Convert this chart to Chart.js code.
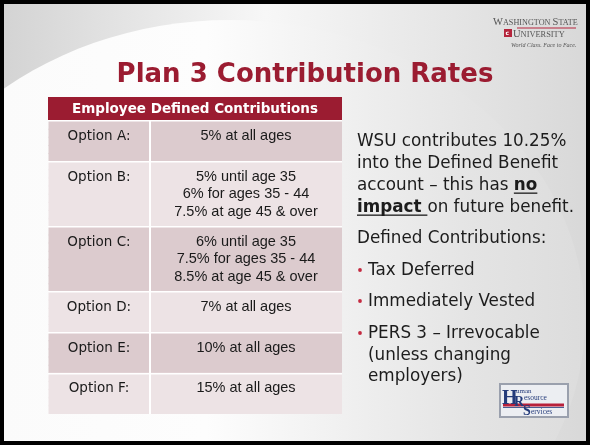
<!DOCTYPE html>
<html>
<head>
<meta charset="utf-8">
<script src="https://cdn.jsdelivr.net/npm/chart.js@4.4.0/dist/chart.umd.min.js"></script>
<style>
html, body { margin: 0; padding: 0; background: #fff; }
#wrap { width: 590px; height: 445px; }
</style>
</head>
<body>
<div id="wrap"><canvas id="slide" width="590" height="445"></canvas></div>
<script>
const slideTitle = 'Plan 3 Contribution Rates';
const tableHeader = 'Employee Defined Contributions';
const optionNames = ['Option A:', 'Option B:', 'Option C:', 'Option D:', 'Option E:', 'Option F:'];
const optionRates = [
    ['5% at all ages'],
    ['5% until age 35', '6% for ages 35 - 44', '7.5% at age 45 & over'],
    ['6% until age 35', '7.5% for ages 35 - 44', '8.5% at age 45 & over'],
    ['7% at all ages'],
    ['10% at all ages'],
    ['15% at all ages']
];
// **text** = bold + underlined
const wsuNote = ['WSU contributes 10.25%', 'into the Defined Benefit', 'account – this has **no**', '**impact **on future benefit.'];
const dcHeading = 'Defined Contributions:';
const dcBullets = [['Tax Deferred'], ['Immediately Vested'], ['PERS 3 – Irrevocable', '(unless changing', 'employers)']];

const RED = '#9b1c31';
const ROW_DARK = '#dccbce';
const ROW_LIGHT = '#ede3e5';
const COL_SPLIT = 0.347;

// rows are cut into thin slots so the 3-line rows get more height
const slotRow = [];
const firstSlot = [];
optionRates.forEach((lines, r) => {
    firstSlot.push(slotRow.length);
    const units = Math.round(5 + 1.5 * (lines.length - 1));
    for (let i = 0; i < units; i++) slotRow.push(r);
});
const slotLabels = slotRow.map((r, i) => 'slot' + i);
const optionCells = slotRow.map(() => [0, COL_SPLIT]);
const rateCells = slotRow.map(() => [COL_SPLIT, 1]);

function cellColor(ctx) {
    return slotRow[ctx.dataIndex] % 2 === 0 ? ROW_DARK : ROW_LIGHT;
}
function rowLineColor(ctx) {
    const i = ctx.index;
    if (i === undefined || i >= slotRow.length) return 'rgba(0,0,0,0)';
    if (i === 0 || slotRow[i] !== slotRow[i - 1]) return '#ffffff';
    return 'rgba(0,0,0,0)';
}
function colLineColor(ctx) {
    if (ctx.tick && ctx.tick.value === COL_SPLIT) return '#ffffff';
    return 'rgba(0,0,0,0)';
}

function drawBackground(ctx, w, h) {
    let g = ctx.createLinearGradient(0, 0, w, 0);
    g.addColorStop(0, '#d3d3d3');
    g.addColorStop(0.45, '#f7f7f7');
    g.addColorStop(1, '#d8d8d8');
    ctx.fillStyle = g;
    ctx.fillRect(0, 0, w, h);
    ctx.save();
    ctx.beginPath();
    ctx.ellipse(230, 320, 355, 300, 0, 0, Math.PI * 2);
    g = ctx.createLinearGradient(0, 0, w, 0);
    g.addColorStop(0, '#fbfbfb');
    g.addColorStop(0.35, '#fdfdfd');
    g.addColorStop(0.8, '#e4e4e4');
    g.addColorStop(1, '#dcdcdc');
    ctx.fillStyle = g;
    ctx.fill();
    ctx.restore();
}

function drawRichLine(ctx, text, x, y, size) {
    const parts = text.split('**');
    parts.forEach((p, k) => {
        if (!p) return;
        const bold = k % 2 === 1;
        ctx.font = (bold ? 'bold ' : '') + size + 'px "DejaVu Sans"';
        const wd = ctx.measureText(p).width;
        ctx.fillText(p, x, y);
        if (bold) {
            ctx.fillRect(x, y + 2.5, wd, 1.3);
        }
        x += wd;
    });
}

function drawWsuLogo(ctx) {
    ctx.save();
    ctx.fillStyle = '#555555';
    ctx.textAlign = 'left';
    let x = 493;
    [['W', 10.5], ['ASHINGTON ', 8.2], ['S', 10.5], ['TATE', 8.2]].forEach(([t, s]) => {
        ctx.font = s + 'px "Liberation Serif"';
        ctx.fillText(t, x, 25);
        x += ctx.measureText(t).width;
    });
    ctx.fillStyle = '#b5253c';
    ctx.fillRect(517, 27.5, 59, 1);
    ctx.fillRect(504, 29, 8, 8);
    ctx.fillStyle = '#fff';
    ctx.font = 'bold 6px "DejaVu Sans"';
    ctx.fillText('c', 505.5, 35);
    ctx.fillStyle = '#555555';
    x = 513;
    [['U', 10.5], ['NIVERSITY', 8.4]].forEach(([t, s]) => {
        ctx.font = s + 'px "Liberation Serif"';
        ctx.fillText(t, x, 36.5);
        x += ctx.measureText(t).width;
    });
    ctx.font = 'italic 6px "Liberation Serif"';
    ctx.fillText('World Class. Face to Face.', 511, 47);
    ctx.restore();
}

function drawHrLogo(ctx) {
    ctx.save();
    ctx.fillStyle = '#9aa0ad';
    ctx.fillRect(499, 383, 70, 35);
    ctx.fillStyle = '#eceef2';
    ctx.fillRect(501, 385, 66, 31);
    ctx.fillStyle = '#b8203a';
    ctx.fillRect(503, 403.5, 61, 3);
    ctx.fillStyle = '#243b7a';
    ctx.fillRect(503, 407, 61, 0.8);
    ctx.textAlign = 'left';
    ctx.font = 'bold 20px "Liberation Serif"';
    ctx.fillText('H', 502, 404);
    ctx.font = '7px "Liberation Serif"';
    ctx.fillText('uman', 516, 393);
    ctx.font = 'bold 14px "Liberation Serif"';
    ctx.fillText('R', 514, 406);
    ctx.font = '7.5px "Liberation Serif"';
    ctx.fillText('esource', 524, 399.5);
    ctx.font = 'bold 14px "Liberation Serif"';
    ctx.fillText('S', 523, 415);
    ctx.font = '7.5px "Liberation Serif"';
    ctx.fillText('ervices', 531, 414);
    ctx.restore();
}

const slidePlugin = {
    id: 'slide',
    beforeDraw(chart) {
        drawBackground(chart.ctx, chart.width, chart.height);
        const tb = chart.titleBlock;
        chart.ctx.fillStyle = RED;
        chart.ctx.fillRect(tb.left, tb.top, tb.width, tb.height);
    },
    afterDraw(chart) {
        const ctx = chart.ctx;
        const w = chart.width, h = chart.height;
        const xs = chart.scales.x;
        const meta = chart.getDatasetMeta(0);
        const left = xs.getPixelForValue(0);
        const mid = xs.getPixelForValue(COL_SPLIT);
        const right = xs.getPixelForValue(1);
        ctx.save();
        ctx.textAlign = 'center';
        ctx.fillStyle = '#1a1a1a';
        optionNames.forEach((name, r) => {
            const bar = meta.data[firstSlot[r]];
            const top = bar.y - bar.height / 2;
            ctx.font = '13.5px "DejaVu Sans"';
            ctx.fillText(name, (left + mid) / 2, top + 19);
            ctx.font = '14.5px "Liberation Sans"';
            optionRates[r].forEach((line, k) => {
                ctx.fillText(line, (mid + right) / 2, top + 19 + k * 17.5);
            });
        });

        ctx.fillStyle = RED;
        ctx.font = 'bold 26px "DejaVu Sans"';
        ctx.fillText(slideTitle, 305, 82);

        ctx.textAlign = 'left';
        ctx.fillStyle = '#1c1c1c';
        const fs = 16.8;
        wsuNote.forEach((line, k) => drawRichLine(ctx, line, 357, 146 + k * 22, fs));
        ctx.font = fs + 'px "DejaVu Sans"';
        ctx.fillText(dcHeading, 357, 243);
        const bulletY = [275, 306, 338];
        dcBullets.forEach((lines, b) => {
            ctx.fillStyle = '#c42a40';
            ctx.beginPath();
            ctx.arc(360, bulletY[b] - 5, 1.9, 0, Math.PI * 2);
            ctx.fill();
            ctx.fillStyle = '#1c1c1c';
            lines.forEach((line, k) => ctx.fillText(line, 368, bulletY[b] + k * 21.5));
        });

        drawWsuLogo(ctx);
        drawHrLogo(ctx);

        // slide frame
        ctx.strokeStyle = '#000';
        ctx.lineWidth = 4;
        ctx.strokeRect(2, 2, w - 4, h - 4);
        ctx.restore();
    }
};

new Chart(document.getElementById('slide'), {
    type: 'bar',
    data: {
        labels: slotLabels,
        datasets: [{
            label: 'Option',
            data: optionCells,
            backgroundColor: cellColor,
            borderWidth: 0,
            inflateAmount: 0.5,
            grouped: false
        }, {
            label: 'Rate',
            data: rateCells,
            backgroundColor: cellColor,
            borderWidth: 0,
            inflateAmount: 0.5,
            grouped: false
        }]
    },
    options: {
        indexAxis: 'y',
        responsive: false,
        animation: false,
        events: [],
        layout: {
            padding: { left: 48, right: 248, top: 97, bottom: 31 }
        },
        datasets: {
            bar: { barPercentage: 1, categoryPercentage: 1 }
        },
        scales: {
            x: {
                type: 'linear', min: 0, max: 1,
                afterBuildTicks: (scale) => {
                    scale.ticks = [{ value: 0 }, { value: COL_SPLIT }, { value: 1 }];
                },
                ticks: { display: false },
                border: { display: false },
                grid: { color: colLineColor, lineWidth: 2, drawTicks: false, z: 1 }
            },
            y: {
                ticks: { display: false },
                border: { display: false },
                grid: { color: rowLineColor, lineWidth: 1.5, drawTicks: false, offset: true, z: 1 }
            }
        },
        plugins: {
            legend: { display: false },
            tooltip: { enabled: false },
            title: {
                display: true,
                text: tableHeader,
                color: '#ffffff',
                font: { family: 'DejaVu Sans', size: 13.5, weight: 'bold' },
                padding: { top: 4, bottom: 3.8 }
            }
        }
    },
    plugins: [slidePlugin]
});
</script>
</body>
</html>
